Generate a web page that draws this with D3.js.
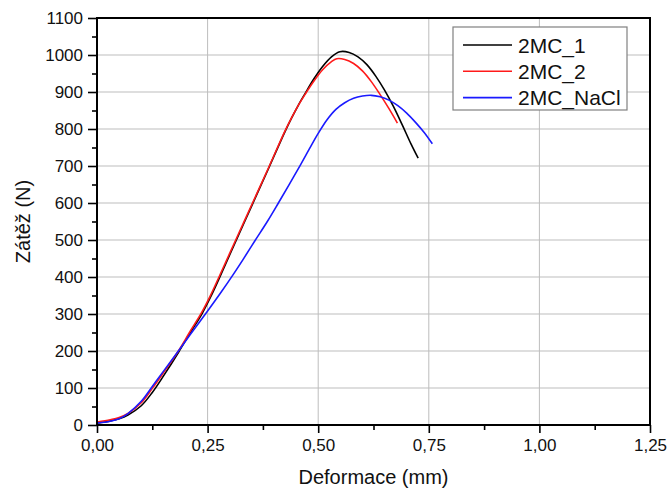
<!DOCTYPE html>
<html>
	<head>
		<meta charset="utf-8">
		<script src="https://d3js.org/d3.v7.min.js"></script>
		<style>
			body { margin: 0; background: #fff; }
			svg { font-family: "Liberation Sans", Arial, sans-serif; }
		</style>
	</head>
	<body>
		<svg width="670" height="494"></svg>

		<script type="text/javascript">
			// series: deformation (mm) and load (N)
			var mc1X = [0, 0.03, 0.05, 0.07, 0.1, 0.125, 0.15, 0.184, 0.21, 0.237, 0.256, 0.275, 0.312, 0.35, 0.388, 0.425, 0.44, 0.455, 0.47, 0.49, 0.51, 0.53, 0.549, 0.57, 0.59, 0.61, 0.63, 0.65, 0.67, 0.69, 0.71, 0.726];
			var mc1Y = [5, 11, 17, 27, 52, 88, 132, 196, 248, 300, 344, 393, 492, 593, 694, 793, 830, 864, 895, 935, 969, 995, 1009, 1007, 995, 974, 943, 905, 861, 811, 759, 721];

			var mc2X = [0, 0.03, 0.05, 0.07, 0.1, 0.125, 0.15, 0.184, 0.21, 0.237, 0.256, 0.275, 0.312, 0.35, 0.388, 0.425, 0.44, 0.455, 0.47, 0.49, 0.51, 0.53, 0.542, 0.56, 0.58, 0.6, 0.62, 0.64, 0.66, 0.679];
			var mc2Y = [8, 14, 20, 31, 60, 99, 141, 200, 252, 305, 349, 398, 496, 596, 696, 795, 831, 864, 893, 929, 960, 982, 990, 988, 977, 957, 928, 893, 855, 816];

			var naclX = [0, 0.03, 0.05, 0.07, 0.1, 0.125, 0.15, 0.184, 0.21, 0.25, 0.28, 0.307, 0.33, 0.357, 0.385, 0.41, 0.435, 0.46, 0.48, 0.5, 0.52, 0.54, 0.56, 0.58, 0.6, 0.62, 0.64, 0.66, 0.68, 0.7, 0.72, 0.74, 0.758];
			var naclY = [5, 10, 17, 31, 64, 104, 145, 200, 243, 308, 358, 405, 447, 498, 550, 600, 651, 703, 746, 788, 825, 853, 871, 883, 889, 891, 887, 878, 863, 843, 818, 790, 760];

			var seriesNames = ["2MC_1", "2MC_2", "2MC_NaCl"];
			var seriesColors = ["#000000", "#ff1a1a", "#1a1aff"];

			var xTicks = [0, 0.25, 0.5, 0.75, 1.0, 1.25];
			var yTicks = [0, 100, 200, 300, 400, 500, 600, 700, 800, 900, 1000, 1100];

			var series = [
				{ name: seriesNames[0], color: seriesColors[0], pts: d3.zip(mc1X, mc1Y) },
				{ name: seriesNames[1], color: seriesColors[1], pts: d3.zip(mc2X, mc2Y) },
				{ name: seriesNames[2], color: seriesColors[2], pts: d3.zip(naclX, naclY) }
			];

			var plotL = 97, plotR = 650, plotT = 18, plotB = 425;

			var svg = d3.select("svg");

			var x = d3.scaleLinear().domain([0, 1.25]).range([plotL, plotR]);
			var y = d3.scaleLinear().domain([0, 1100]).range([plotB, plotT]);

			var fmt = function(d) { return d3.format(".2f")(d).replace(".", ","); };

			// grid
			svg.append("g").selectAll("line")
				.data(xTicks.slice(1, -1))
				.enter().append("line")
				.attr("x1", function(d) { return x(d); })
				.attr("x2", function(d) { return x(d); })
				.attr("y1", plotT).attr("y2", plotB)
				.attr("stroke", "#bdbdbd").attr("stroke-width", 1);

			svg.append("g").selectAll("line")
				.data(yTicks.slice(1, -1))
				.enter().append("line")
				.attr("y1", function(d) { return y(d); })
				.attr("y2", function(d) { return y(d); })
				.attr("x1", plotL).attr("x2", plotR)
				.attr("stroke", "#bdbdbd").attr("stroke-width", 1);

			// curves
			var line = d3.line()
				.x(function(d) { return x(d[0]); })
				.y(function(d) { return y(d[1]); })
				.curve(d3.curveCatmullRom);

			svg.append("g").selectAll("path")
				.data(series)
				.enter().append("path")
				.attr("d", function(d) { return line(d.pts); })
				.attr("fill", "none")
				.attr("stroke", function(d) { return d.color; })
				.attr("stroke-width", 1.6);

			// axes
			var xAxis = d3.axisBottom(x).tickValues(xTicks).tickFormat(fmt)
				.tickSize(8).tickPadding(6);
			var xMinor = d3.axisBottom(x).tickValues([0.125, 0.375, 0.625, 0.875, 1.125])
				.tickSize(5).tickFormat("");
			var yAxis = d3.axisLeft(y).tickValues(yTicks).tickFormat(d3.format("d"))
				.tickSize(9).tickPadding(5);
			var yMinor = d3.axisLeft(y).tickValues(d3.range(50, 1100, 100))
				.tickSize(5).tickFormat("");

			var gx = svg.append("g").attr("transform", "translate(0," + plotB + ")").call(xAxis);
			svg.append("g").attr("transform", "translate(0," + plotB + ")").call(xMinor);
			var gy = svg.append("g").attr("transform", "translate(" + plotL + ",0)").call(yAxis);
			svg.append("g").attr("transform", "translate(" + plotL + ",0)").call(yMinor);

			svg.selectAll(".domain").remove();
			svg.selectAll(".tick line").attr("stroke", "#000").attr("stroke-width", 1.6);
			svg.selectAll(".tick text")
				.attr("font-family", "'Liberation Sans', Arial, sans-serif")
				.attr("font-size", 17).attr("fill", "#111");
			gx.selectAll(".tick text").attr("dy", "0.72em");

			// frame
			svg.append("rect")
				.attr("x", plotL).attr("y", plotT)
				.attr("width", plotR - plotL).attr("height", plotB - plotT)
				.attr("fill", "none").attr("stroke", "#000").attr("stroke-width", 2);

			// titles
			svg.append("text")
				.attr("x", (plotL + plotR) / 2).attr("y", 484)
				.attr("text-anchor", "middle")
				.attr("font-size", 20).attr("fill", "#111")
				.text("Deformace (mm)");

			svg.append("text")
				.attr("transform", "translate(30," + (plotT + plotB) / 2 + ") rotate(-90)")
				.attr("text-anchor", "middle")
				.attr("font-size", 20).attr("fill", "#111")
				.text("Zátěž (N)");

			// legend
			var lg = svg.append("g").attr("transform", "translate(453,27)");
			lg.append("rect")
				.attr("width", 174).attr("height", 83)
				.attr("fill", "#fff").attr("stroke", "#808080").attr("stroke-width", 1.2);

			var items = lg.selectAll("g")
				.data(series)
				.enter().append("g")
				.attr("transform", function(d, i) { return "translate(0," + (18 + i * 26.3) + ")"; });

			items.append("line")
				.attr("x1", 10).attr("x2", 59)
				.attr("stroke", function(d) { return d.color; })
				.attr("stroke-width", 1.6);

			items.append("text")
				.attr("x", 65).attr("dy", "0.36em")
				.attr("font-size", 21).attr("fill", "#111")
				.text(function(d) { return d.name; });
		</script>
	</body>
</html>
